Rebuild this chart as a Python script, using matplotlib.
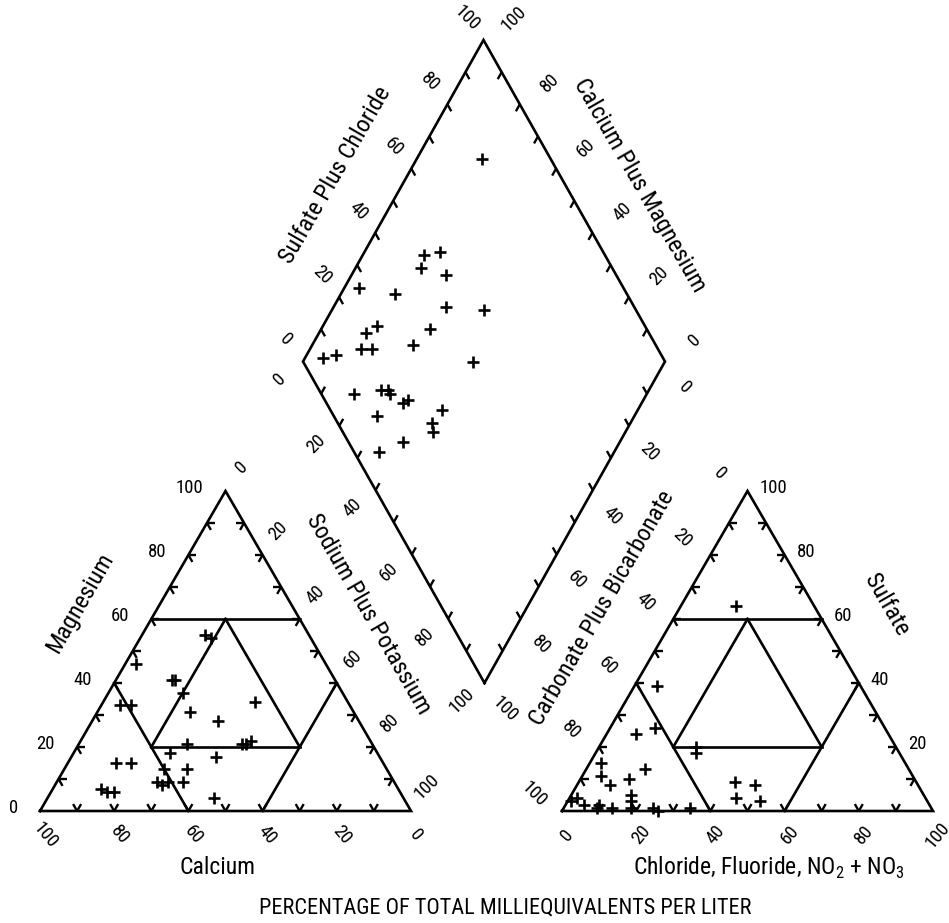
import numpy as np
import matplotlib.pyplot as plt
from matplotlib import font_manager as fm

# pick a narrow sans if one is installed, otherwise shrink DejaVu a little
fonts = [(f.name, f.stretch) for f in fm.fontManager.ttflist]
family, stretch, shrink = 'DejaVu Sans', 'normal', 0.82
for name, st in [('Liberation Sans Narrow', None), ('Roboto Condensed', None),
                 ('DejaVu Sans', 'condensed'), ('Open Sans', 'condensed')]:
    if any(n == name and (st is None or s == st) for n, s in fonts):
        family, stretch, shrink = name, (st or 'normal'), 1.0
        break

plt.rcParams['font.family'] = [family, 'DejaVu Sans']
plt.rcParams['font.stretch'] = stretch
plt.rcParams['mathtext.fontset'] = 'custom'
plt.rcParams['mathtext.rm'] = family + (':stretch=' + stretch if stretch != 'normal' else '')

# cation triangle, percent of total meq/L
cat_mg = [55, 54, 46, 41, 41, 37, 33, 33, 34, 31, 28, 21, 21, 21, 22, 18, 17, 15, 15,
          13, 13, 9, 8, 9, 9, 7, 6, 6, 4]
cat_na = [17, 19, 3, 15, 16, 20, 5, 8, 41, 25, 34, 29, 44, 45, 46, 26, 39, 13, 17,
          27, 33, 27, 29, 30, 34, 13, 15, 17, 45]

# anion triangle
an_so4 = [64, 39, 26, 24, 20, 18, 15, 13, 11, 10, 8, 9, 8, 3, 4, 2, 1, 2, 1, 1, 5, 3,
          1, 0, 1, 4, 3]
an_cl = [15, 6, 12, 8, 26, 27, 3, 16, 5, 13, 9, 42, 48, 1, 2, 5, 9, 9, 13, 18, 16, 17,
         24, 26, 34, 45, 52]

# diamond: calcium plus magnesium, sulfate plus chloride
dia_camg = [82, 79, 83, 82, 74, 96, 85, 69, 58, 85, 87, 70, 86, 83, 72, 95, 92, 53, 81,
            74, 72, 71, 66, 65, 54, 71, 55, 53, 60, 65]
dia_so4cl = [81, 55, 50, 47, 53, 27, 36, 48, 58, 26, 22, 40, 18, 21, 33, 6, 10, 47, 9,
             17, 19, 19, 21, 23, 31, 12, 26, 25, 15, 7]

tick_vals = [0, 20, 40, 60, 80, 100]

# layout (pixels)
S = 371.0
H = 320.0
CAT0 = (40.0, 811.0)
AN0 = (562.0, 811.0)
D_BOT = np.array([484.5, 683.0])
D_A = np.array([-181.5, -321.5])   # towards Ca+Mg = 100
D_B = np.array([180.5, -321.5])    # towards SO4+Cl = 100
LW = 1.9
TL = 8
TICK_FS = 13.5

fig = plt.figure(figsize=(9.49, 9.23), dpi=100)
ax = fig.add_axes([0, 0, 1, 1])
ax.set_xlim(0, 949)
ax.set_ylim(923, 0)
ax.axis('off')


def tri_xy(origin, top, right):
    top = np.asarray(top, float) / 100
    right = np.asarray(right, float) / 100
    return origin[0] + S * (right + top / 2), origin[1] - H * top


def dia_xy(a, b):
    a = np.asarray(a, float) / 100
    b = np.asarray(b, float) / 100
    return D_BOT[0] + a * D_A[0] + b * D_B[0], D_BOT[1] + a * D_A[1] + b * D_B[1]


def stroke(x, y, dx, dy, lw=1.7):
    ax.plot([x, x + dx * TL], [y, y + dy * TL], 'k-', lw=lw, solid_capstyle='butt')


def draw_triangle(origin):
    x, y = tri_xy(origin, [0, 0, 100, 0], [0, 100, 0, 0])
    ax.plot(x, y, 'k-', lw=LW, solid_joinstyle='miter')
    segs = [((60, 0), (60, 40)), ((40, 0), (0, 40)), ((0, 60), (40, 60)),
            ((20, 20), (20, 60)), ((20, 20), (60, 20)), ((20, 60), (60, 20))]
    for (t1, r1), (t2, r2) in segs:
        x, y = tri_xy(origin, [t1, t2], [r1, r2])
        ax.plot(x, y, 'k-', lw=LW)
    for k in range(10, 100, 10):
        x, y = tri_xy(origin, 0, k)
        stroke(x, y, 0.5, -0.866)
        stroke(x, y, -0.5, -0.866)
        x, y = tri_xy(origin, k, 0)
        stroke(x, y, 1, 0)
        stroke(x, y, 0.5, 0.866)
        x, y = tri_xy(origin, k, 100 - k)
        stroke(x, y, -1, 0)
        stroke(x, y, -0.5, 0.866)


def txt(x, y, s, rot=0, size=TICK_FS, ha='center', va='center'):
    ax.text(x, y, s, rotation=rot, fontsize=size * shrink, ha=ha, va=va,
            rotation_mode='anchor')


draw_triangle(CAT0)
draw_triangle(AN0)

# diamond
x, y = dia_xy([0, 100, 100, 0, 0], [0, 0, 100, 100, 0])
ax.plot(x, y, 'k-', lw=LW, solid_joinstyle='miter')
ua = -D_A / np.hypot(*D_A)
ub = -D_B / np.hypot(*D_B)
for k in range(10, 100, 10):
    x, y = dia_xy(100, k)
    stroke(x, y, *ua)
    x, y = dia_xy(k, 100)
    stroke(x, y, *ub)
    x, y = dia_xy(k, 0)
    stroke(x, y, *(-ub))
    x, y = dia_xy(0, k)
    stroke(x, y, *(-ua))

# tick labels: cation triangle
for v in tick_vals:
    x, y = tri_xy(CAT0, v, 0)
    txt(x - 22, y - 3, str(v), ha='right')
    x, y = tri_xy(CAT0, 0, 100 - v)
    txt(x + 5, y + 24, str(v), rot=-50)
    x, y = tri_xy(CAT0, 100 - v, v)
    txt(x + 16, y - 24, str(v), rot=45)

# tick labels: anion triangle (sulfate zero falls off the page)
for v in tick_vals:
    if v > 0:
        x, y = tri_xy(AN0, v, 100 - v)
        txt(x + 12, y - 3, str(v), ha='left')
    x, y = tri_xy(AN0, 0, v)
    txt(x + 5, y + 24, str(v), rot=50)
    x, y = tri_xy(AN0, 100 - v, 0)
    txt(x - 28, y - 17, str(v), rot=-45)

# tick labels: diamond
for v in tick_vals:
    x, y = dia_xy(100, v)
    txt(x - 17, y - 22, str(v), rot=-45)
    x, y = dia_xy(v, 100)
    txt(x + 30, y - 21, str(v), rot=45)
    x, y = dia_xy(100 - v, 0)
    txt(x - 23, y + 18, str(v), rot=45)
    x, y = dia_xy(0, 100 - v)
    txt(x + 20, y + 26, str(v), rot=-45)

# samples
x, y = tri_xy(CAT0, cat_mg, cat_na)
ax.plot(x, y, '+', color='k', ms=9, mew=1.9, ls='none')
x, y = tri_xy(AN0, an_so4, an_cl)
ax.plot(x, y, '+', color='k', ms=9, mew=1.9, ls='none')
x, y = dia_xy(dia_camg, dia_so4cl)
ax.plot(x, y, '+', color='k', ms=9, mew=1.9, ls='none')

# axis titles
txt(80, 603, 'Magnesium', rot=60, size=17.5)
txt(368, 614, 'Sodium Plus Potassium', rot=-60, size=17.5)
txt(218, 868, 'Calcium', size=17)
txt(335, 175, 'Sulfate Plus Chloride', rot=60, size=17.5)
txt(640, 185, 'Calcium Plus Magnesium', rot=-60, size=17.5)
txt(602, 608, 'Carbonate Plus Bicarbonate', rot=60, size=17.5)
txt(887, 605, 'Sulfate', rot=-60, size=17.5)
txt(769, 868, 'Chloride, Fluoride, NO$_2$ + NO$_3$', size=17)
txt(505, 908, 'PERCENTAGE OF TOTAL MILLIEQUIVALENTS PER LITER', size=16)

fig.savefig('out.png', dpi=100)
